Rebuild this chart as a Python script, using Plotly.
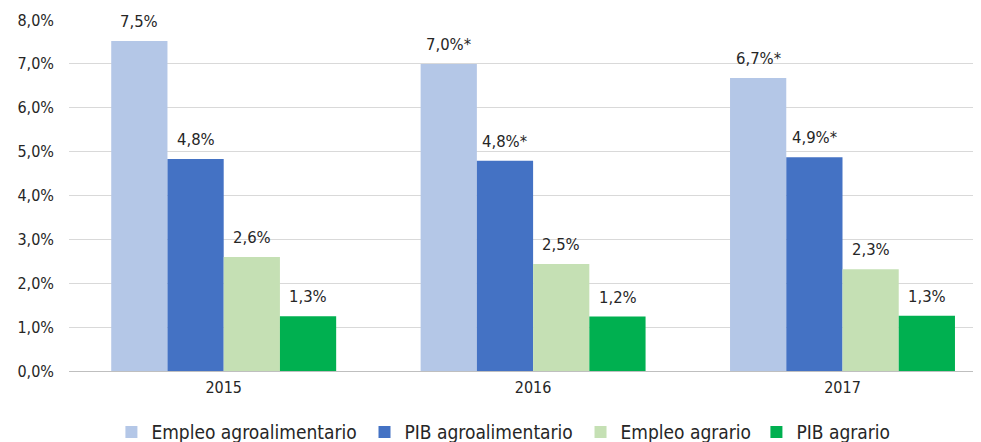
import plotly.graph_objects as go

years = ["2015", "2016", "2017"]
series_names = ["Empleo agroalimentario", "PIB agroalimentario", "Empleo agrario", "PIB agrario"]
empleo_agroalimentario = [7.52, 7.00, 6.68]
pib_agroalimentario = [4.83, 4.79, 4.87]
empleo_agrario = [2.60, 2.44, 2.32]
pib_agrario = [1.25, 1.24, 1.26]
lbl_empleo_agroalimentario = ["7,5%", "7,0%*", "6,7%*"]
lbl_pib_agroalimentario = ["4,8%", "4,8%*", "4,9%*"]
lbl_empleo_agrario = ["2,6%", "2,5%", "2,3%"]
lbl_pib_agrario = ["1,3%", "1,2%", "1,3%"]
y_ticks = [0, 1, 2, 3, 4, 5, 6, 7, 8]
y_tick_labels = ["0,0%", "1,0%", "2,0%", "3,0%", "4,0%", "5,0%", "6,0%", "7,0%", "8,0%"]

colors = ["#B4C7E7", "#4472C4", "#C5E0B4", "#00B050"]
values = [empleo_agroalimentario, pib_agroalimentario, empleo_agrario, pib_agrario]
labels = [lbl_empleo_agroalimentario, lbl_pib_agroalimentario, lbl_empleo_agrario, lbl_pib_agrario]

FONT = "DejaVu Sans Condensed, DejaVu Sans, sans-serif"
BAR_PX = 56.3
legend_ids = ["legend", "legend2", "legend3", "legend4"]
legend_x = [0.0461, 0.3212, 0.556, 0.7472]

fig = go.Figure()
for i, (name, vals, lbls, col) in enumerate(zip(series_names, values, labels, colors)):
    fig.add_trace(go.Bar(
        x=years, y=vals, name=name, marker=dict(color=col, line=dict(width=0)),
        legend=legend_ids[i],
    ))
    for j, (v, t) in enumerate(zip(vals, lbls)):
        fig.add_annotation(x=j, y=v, text=t, showarrow=False, xref="x", yref="y",
                           xanchor="center", yanchor="bottom",
                           xshift=(i - 1.5) * BAR_PX, yshift=8,
                           font=dict(size=16.5, color="#262626", family=FONT))

legend_common = dict(orientation="h", y=-0.174, xanchor="left", yanchor="middle",
                     font=dict(size=19, family=FONT, color="#262626"), bgcolor="rgba(0,0,0,0)")

fig.update_layout(
    width=981, height=442,
    margin=dict(l=61, r=0, t=12, b=79, autoexpand=False),
    paper_bgcolor="white", plot_bgcolor="white",
    barmode="group", bargap=0.273, bargroupgap=0,
    font=dict(family=FONT, color="#262626"),
    xaxis=dict(type="category", range=[-0.5, 2.4735], showgrid=False, showline=True,
               linecolor="#BFBFBF", linewidth=1,
               tickfont=dict(size=16), ticks="", ticklabelstandoff=2, automargin=False),
    yaxis=dict(range=[0, 8], tickvals=y_ticks, ticktext=y_tick_labels,
               showgrid=True, gridcolor="#D9D9D9", gridwidth=1, zeroline=False,
               tickfont=dict(size=16), ticklabelstandoff=14, automargin=False),
    legend=dict(x=legend_x[0], **legend_common),
    legend2=dict(x=legend_x[1], **legend_common),
    legend3=dict(x=legend_x[2], **legend_common),
    legend4=dict(x=legend_x[3], **legend_common),
    showlegend=True,
)
fig.write_html("out.html")
